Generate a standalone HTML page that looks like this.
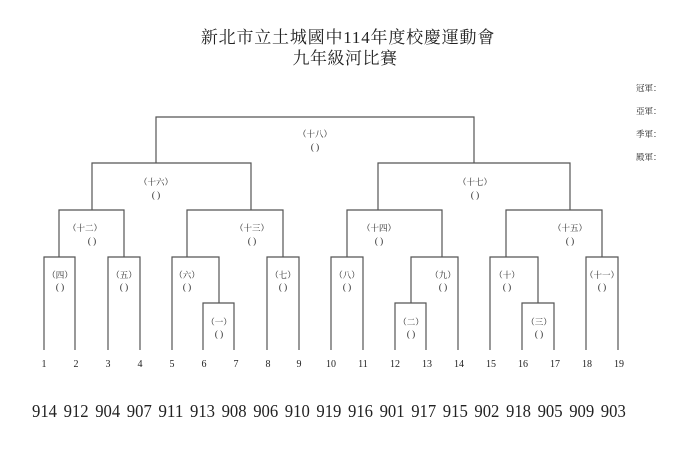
<!DOCTYPE html>
<html><head><meta charset="utf-8"><style>
html,body{margin:0;padding:0;background:#fff;}
svg{display:block;}
text{font-family:"Liberation Serif","Noto Serif CJK SC",serif;fill:#222;}
.l{font-size:8.5px;fill:#444;}
.p{font-size:9px;fill:#444;}
.n{font-size:10px;}
.b{font-size:18px;}
</style></head><body>
<svg width="700" height="458" viewBox="0 0 700 458" xmlns="http://www.w3.org/2000/svg">
<text x="348" y="43" text-anchor="middle" font-size="17" letter-spacing="0.8">新北市立土城國中114年度校慶運動會</text>
<text x="345" y="64" text-anchor="middle" font-size="17" letter-spacing="0.5">九年級河比賽</text>
<g class="l" font-size="8">
<text x="636" y="91">冠軍：</text>
<text x="636" y="114">亞軍：</text>
<text x="636" y="137">季軍：</text>
<text x="636" y="160">殿軍：</text>
</g>
<g fill="none" stroke="#555" stroke-width="1.2">
<polyline points="44,350 44,257 75,257 75,350"/>
<polyline points="108,350 108,257 140,257 140,350"/>
<polyline points="172,350 172,257 219,257 219,303"/>
<polyline points="203,350 203,303 234,303 234,350"/>
<polyline points="267,350 267,257 299,257 299,350"/>
<polyline points="331,350 331,257 363,257 363,350"/>
<polyline points="411,303 411,257 458,257 458,350"/>
<polyline points="395,350 395,303 426,303 426,350"/>
<polyline points="490,350 490,257 538,257 538,303"/>
<polyline points="522,350 522,303 554,303 554,350"/>
<polyline points="586,350 586,257 618,257 618,350"/>
<polyline points="59,257 59,210 124,210 124,257"/>
<polyline points="187,257 187,210 283,210 283,257"/>
<polyline points="347,257 347,210 442,210 442,257"/>
<polyline points="506,257 506,210 602,210 602,257"/>
<polyline points="92,210 92,163 251,163 251,210"/>
<polyline points="378,210 378,163 570,163 570,210"/>
<polyline points="156,163 156,117 474,117 474,163"/>
</g>
<g class="l" text-anchor="middle">
<text x="315" y="137">（十八）</text>
<text x="156" y="185">（十六）</text>
<text x="475" y="185">（十七）</text>
<text x="85" y="231">（十二）</text>
<text x="252" y="231">（十三）</text>
<text x="379" y="231">（十四）</text>
<text x="570" y="231">（十五）</text>
<text x="60" y="278">（四）</text>
<text x="124" y="278">（五）</text>
<text x="187" y="278">（六）</text>
<text x="283" y="278">（七）</text>
<text x="347" y="278">（八）</text>
<text x="443" y="278">（九）</text>
<text x="507" y="278">（十）</text>
<text x="602" y="278">（十一）</text>
<text x="219" y="325">（一）</text>
<text x="411" y="325">（二）</text>
<text x="539" y="325">（三）</text>
</g>
<g class="p" text-anchor="middle">
<text x="315" y="150">( )</text>
<text x="156" y="198">( )</text>
<text x="475" y="198">( )</text>
<text x="92" y="244">( )</text>
<text x="252" y="244">( )</text>
<text x="379" y="244">( )</text>
<text x="570" y="244">( )</text>
<text x="60" y="290">( )</text>
<text x="124" y="290">( )</text>
<text x="187" y="290">( )</text>
<text x="283" y="290">( )</text>
<text x="347" y="290">( )</text>
<text x="443" y="290">( )</text>
<text x="507" y="290">( )</text>
<text x="602" y="290">( )</text>
<text x="219" y="337">( )</text>
<text x="411" y="337">( )</text>
<text x="539" y="337">( )</text>
</g>
<g class="n" text-anchor="middle">
<text x="44" y="367">1</text><text x="76" y="367">2</text><text x="108" y="367">3</text><text x="140" y="367">4</text>
<text x="172" y="367">5</text><text x="204" y="367">6</text><text x="236" y="367">7</text><text x="268" y="367">8</text>
<text x="299" y="367">9</text><text x="331" y="367">10</text><text x="363" y="367">11</text><text x="395" y="367">12</text>
<text x="427" y="367">13</text><text x="459" y="367">14</text><text x="491" y="367">15</text><text x="523" y="367">16</text>
<text x="555" y="367">17</text><text x="587" y="367">18</text><text x="619" y="367">19</text>
</g>
<g class="b">
<text x="32" y="417" textLength="25" lengthAdjust="spacingAndGlyphs">914</text>
<text x="63.6" y="417" textLength="25" lengthAdjust="spacingAndGlyphs">912</text>
<text x="95.2" y="417" textLength="25" lengthAdjust="spacingAndGlyphs">904</text>
<text x="126.8" y="417" textLength="25" lengthAdjust="spacingAndGlyphs">907</text>
<text x="158.4" y="417" textLength="25" lengthAdjust="spacingAndGlyphs">911</text>
<text x="190" y="417" textLength="25" lengthAdjust="spacingAndGlyphs">913</text>
<text x="221.6" y="417" textLength="25" lengthAdjust="spacingAndGlyphs">908</text>
<text x="253.2" y="417" textLength="25" lengthAdjust="spacingAndGlyphs">906</text>
<text x="284.8" y="417" textLength="25" lengthAdjust="spacingAndGlyphs">910</text>
<text x="316.4" y="417" textLength="25" lengthAdjust="spacingAndGlyphs">919</text>
<text x="348" y="417" textLength="25" lengthAdjust="spacingAndGlyphs">916</text>
<text x="379.6" y="417" textLength="25" lengthAdjust="spacingAndGlyphs">901</text>
<text x="411.2" y="417" textLength="25" lengthAdjust="spacingAndGlyphs">917</text>
<text x="442.8" y="417" textLength="25" lengthAdjust="spacingAndGlyphs">915</text>
<text x="474.4" y="417" textLength="25" lengthAdjust="spacingAndGlyphs">902</text>
<text x="506" y="417" textLength="25" lengthAdjust="spacingAndGlyphs">918</text>
<text x="537.6" y="417" textLength="25" lengthAdjust="spacingAndGlyphs">905</text>
<text x="569.2" y="417" textLength="25" lengthAdjust="spacingAndGlyphs">909</text>
<text x="600.8" y="417" textLength="25" lengthAdjust="spacingAndGlyphs">903</text>
</g>
</svg>
</body></html>
